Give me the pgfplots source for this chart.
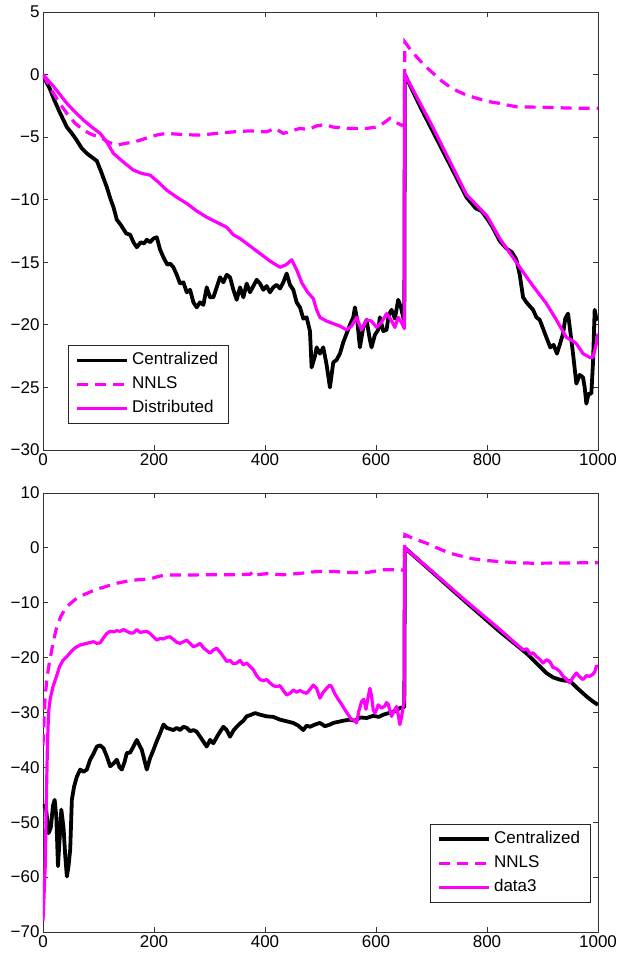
\documentclass[border=0pt]{standalone}
\usepackage{fontspec}
\setmainfont{Liberation Sans}
\usepackage{pgfplots}
\pgfplotsset{compat=1.18}

\definecolor{mag}{RGB}{255,0,255}

\pgfplotsset{
  mlab/.style={
    scale only axis, width=555pt,
    xmin=0, xmax=1000,
    xtick={0,200,400,600,800,1000},
    xticklabels={0,200,400,600,800,1000},
    tick align=inside, major tick length=5pt,
    axis line style={black!80, line width=0.9pt},
    every tick/.style={black!80, line width=0.9pt},
    tick label style={font=\fontsize{17}{20}\selectfont},
    legend cell align=left,
    legend image code/.code={\draw[##1] (0pt,0pt) -- (50pt,0pt);},
    legend style={draw=black!85, line width=0.9pt, fill=white,
      font=\fontsize{17}{20}\selectfont, inner xsep=7pt, inner ysep=6pt,
      nodes={inner xsep=3pt, inner ysep=1.5pt, text height=12pt, text depth=3.5pt},
      row sep=5.5pt},
  },
  cen/.style={black, line width=3.8pt, line join=round},
  nnls/.style={mag, line width=3.2pt, dash pattern=on 11pt off 7pt},
  dis/.style={mag, line width=3.2pt, line join=round},
}

\begin{document}
\begin{tikzpicture}
\path[use as bounding box] (0,0) rectangle (618pt,960pt);

% upper panel
\begin{axis}[mlab, height=438pt, at={(43pt,510pt)}, anchor=south west,
  ymin=-30, ymax=5, ytick={-30,-25,...,5},
  yticklabels={−30,−25,−20,−15,−10,−5,0,5},
  legend style={at={(0.045,0.059)}, anchor=south west}]
\addplot[cen] coordinates {
(0,0) (6,-0.6) (12,-1.1) (20,-2) (30,-3) (43,-4.2) (52,-4.7) (60,-5.2) (70,-5.9) (79,-6.3) (88,-6.6) (97,-6.9) (105,-7.8) (115,-9) (122,-10) (127,-10.6) (133,-11.6) (140,-12) (150,-12.7) (157,-12.8) (163,-13.4) (169,-13.8) (176,-13.4) (182,-13.5) (187,-13.2) (193,-13.4) (199,-13.1) (205,-13) (211,-14) (217,-14.6) (224,-15.2) (229,-15.1) (235,-15.4) (241,-16) (247,-16.7) (253,-16.6) (259,-17.4) (265,-17.2) (271,-18.2) (277,-18.6) (283,-18.2) (289,-18.4) (295,-17) (301,-17.8) (307,-17.8) (313,-17) (319,-16.2) (325,-16.6) (331,-16) (337,-16.2) (343,-17.2) (349,-18) (355,-17) (361,-17.8) (367,-16.7) (373,-17.4) (379,-16.9) (385,-16.4) (391,-16.7) (397,-17.2) (403,-16.9) (409,-17.4) (415,-17) (421,-16.8) (427,-17.1) (433,-16.6) (439,-15.9) (445,-16.8) (451,-17.2) (457,-18.2) (463,-18.6) (469,-19.5) (475,-19.4) (481,-20.5) (484,-23.4) (490,-22.5) (493,-21.8) (499,-22.3) (505,-21.8) (511,-23.2) (517,-25) (523,-23) (529,-22.8) (535,-22.3) (541,-21.4) (547,-20.7) (553,-20) (559,-19.4) (562,-18.6) (566,-19.6) (571,-21.8) (577,-20.2) (583,-19.6) (589,-21.2) (592,-21.8) (598,-20.8) (604,-20.4) (607,-19.4) (613,-20.5) (619,-20.4) (623,-19.2) (628,-18.8) (634,-19.5) (640,-18) (645,-18.6) (649,-19.4) (651,-19.6)
(652,0) (680,-2.6) (710,-5.2) (740,-7.8) (763,-9.8) (780,-10.7) (790,-10.9) (800,-11.5) (810,-12.2) (823,-13.3) (835,-13.9) (845,-14.2) (853,-14.8) (859,-16) (865,-17.8) (871,-18.2) (877,-18.5) (883,-18.8) (889,-19.4) (895,-19.6) (901,-20.3) (907,-21) (914,-21.8) (920,-21.6) (926,-22.3) (931,-21.6) (937,-20.7) (941,-19.5) (946,-19.1) (950,-20.5) (955,-22.3) (961,-24.7) (967,-24) (973,-24.2) (976,-25) (979,-26.3) (983,-25.5) (988,-25.5) (991,-23) (994,-18.8) (997,-19.5) (1000,-19.6)
};
\addlegendentry{Centralized}
\addplot[nnls] coordinates {
(0,0) (15,-1.2) (30,-2.3) (43,-3.1) (58,-3.9) (73,-4.44) (88,-4.8) (103,-5) (118,-5.4) (133,-5.64) (148,-5.5) (163,-5.4) (178,-5.2) (193,-4.98) (208,-4.8) (223,-4.7) (253,-4.8) (283,-4.84) (313,-4.7) (343,-4.58) (373,-4.5) (403,-4.58) (418,-4.3) (433,-4.7) (448,-4.5) (463,-4.3) (478,-4.4) (493,-4.1) (508,-4.0) (523,-4.2) (553,-4.3) (583,-4.3) (601,-4.2) (613,-3.9) (625,-3.5) (635,-3.8) (646,-4.04) (651,-4.1)
(652,2.6) (662,2.0) (673,1.42) (688,0.7) (703,0.1) (718,-0.5) (733,-0.98) (748,-1.35) (763,-1.64) (778,-1.85) (793,-2.04) (808,-2.2) (823,-2.3) (838,-2.45) (853,-2.57) (883,-2.6) (913,-2.63) (950,-2.68) (1000,-2.7)
};
\addlegendentry{NNLS}
\addplot[dis] coordinates {
(0,0) (20,-1) (43,-2.3) (58,-3.0) (73,-3.64) (88,-4.2) (103,-4.7) (115,-5.4) (127,-6.3) (145,-7.0) (163,-7.64) (178,-7.9) (193,-8.04) (208,-8.6) (223,-9.24) (241,-9.8) (259,-10.3) (277,-10.9) (295,-11.4) (313,-11.8) (331,-12.2) (343,-12.8) (355,-13.1) (373,-13.7) (391,-14.3) (409,-14.9) (427,-15.4) (438,-15.2) (448,-14.8) (457,-15.6) (467,-16.7) (477,-17.4) (487,-17.9) (493,-18.8) (499,-19.4) (511,-19.7) (523,-19.9) (535,-20.1) (547,-20.4) (556,-20.1) (565,-19.4) (574,-20.4) (583,-19.6) (592,-19.7) (601,-20.2) (610,-19.8) (619,-19.1) (627,-19.6) (634,-20.2) (640,-19.4) (646,-19.8) (651,-20.3)
(652,0) (700,-4) (763,-9.6) (800,-11.3) (823,-13.1) (859,-15.4) (883,-16.9) (907,-18.3) (925,-19.6) (943,-21) (955,-21.3) (961,-21.5) (967,-21.9) (973,-22.3) (985,-22.6) (991,-22.6) (997,-21.5) (1000,-20.7)
};
\addlegendentry{Distributed}
\end{axis}

% lower panel
\begin{axis}[mlab, height=439pt, at={(43pt,28pt)}, anchor=south west,
  ymin=-70, ymax=10, ytick={-70,-60,...,10},
  yticklabels={−70,−60,−50,−40,−30,−20,−10,0,10},
  legend style={at={(0.697,0.066)}, anchor=south west}]
\addplot[cen] coordinates {
(0,-47) (5,-47) (8,-50) (10,-52) (14,-51) (18,-47) (21,-45.9) (24,-49) (27,-58) (30,-53) (33,-47.7) (37,-51) (40,-56) (43,-59.9) (46,-58) (49,-55) (52,-45.9) (56,-43.5) (61,-41.7) (67,-40.4) (73,-40.8) (79,-40.4) (85,-38.6) (91,-37.5) (97,-36.2) (103,-36) (109,-36.5) (115,-38) (121,-39.8) (127,-39.3) (133,-38.6) (138,-40) (142,-40.4) (147,-39) (151,-37.4) (157,-37.3) (163,-36.2) (169,-35) (174,-36) (178,-36.8) (183,-38.8) (187,-40.4) (193,-38.3) (199,-36.8) (205,-35.2) (211,-33.8) (217,-32.2) (223,-32.8) (229,-33) (235,-33.2) (241,-32.8) (247,-33.2) (253,-32.6) (259,-32.8) (265,-33.4) (271,-33.2) (277,-33.5) (283,-34.4) (289,-35.3) (295,-36.2) (301,-35) (307,-35.6) (313,-34.5) (319,-33.5) (325,-32.6) (331,-33.2) (337,-34.4) (343,-33.3) (349,-32.6) (355,-32) (361,-31.5) (367,-30.7) (373,-30.5) (382,-30.1) (391,-30.4) (403,-30.7) (415,-30.8) (427,-31.3) (439,-31.6) (451,-31.9) (460,-32.4) (469,-33.2) (475,-32.4) (481,-32.6) (490,-32.2) (499,-31.9) (508,-32.5) (517,-32.2) (523,-31.9) (532,-31.7) (541,-31.5) (553,-31.3) (562,-31.5) (572,-30.9) (583,-31) (595,-30.6) (605,-30.8) (613,-30.4) (623,-30.1) (633,-29.8) (643,-29.2) (651,-29)
(652,0) (700,-4.3) (760,-9.7) (820,-15) (871,-19.2) (889,-21) (907,-22.8) (919,-23.6) (931,-24) (941,-24.2) (950,-24.3) (962,-25.5) (973,-26.5) (982,-27.3) (991,-28) (1000,-28.6)
};
\addlegendentry{Centralized}
\addplot[nnls] coordinates {
(0,-36) (2,-31) (4,-27) (7,-24) (10,-21.8) (13,-20.2) (18,-17.3) (25,-14.3) (33,-12.3) (43,-10.7) (58,-9.4) (73,-8.56) (88,-7.9) (103,-7.35) (118,-6.9) (133,-6.44) (150,-6.1) (169,-5.83) (193,-5.65) (208,-5.2) (223,-4.92) (253,-4.95) (283,-4.92) (313,-4.9) (343,-4.9) (373,-4.8) (380,-4.3) (385,-4.9) (403,-4.7) (433,-4.9) (463,-4.65) (493,-4.3) (523,-4.3) (553,-4.5) (583,-4.5) (613,-4.0) (643,-4.0) (651,-4.1)
(652,2.4) (670,1.6) (691,0.85) (712,-0.1) (733,-0.97) (754,-1.5) (775,-2.0) (799,-2.3) (823,-2.5) (853,-2.7) (883,-2.8) (940,-2.75) (1000,-2.7)
};
\addlegendentry{NNLS}
\addplot[dis] coordinates {
(0,-68) (2,-63) (4,-58) (6,-46) (8,-36) (10,-30) (13,-27.5) (18,-25.3) (24,-23.5) (30,-21.6) (36,-20.5) (43,-19.8) (50,-19) (58,-18.2) (67,-17.7) (75,-17.5) (83,-17.3) (91,-17.1) (97,-17.4) (103,-17.3) (109,-16.4) (115,-15.6) (121,-15.2) (127,-15.3) (133,-15.1) (139,-15.2) (145,-14.9) (151,-15.2) (157,-15.5) (163,-15.5) (169,-14.9) (175,-15.4) (181,-15.3) (187,-15.2) (193,-15.6) (199,-16.2) (205,-16.8) (211,-16.5) (217,-16.6) (223,-16.3) (229,-16.2) (235,-16.7) (241,-17.2) (247,-17.4) (253,-17.1) (259,-16.8) (265,-17.4) (271,-18) (277,-17.8) (283,-17.4) (289,-18.2) (295,-18.7) (301,-19.2) (307,-18.6) (313,-18.3) (319,-19) (325,-19.8) (331,-20.7) (337,-20.5) (343,-21.1) (349,-21) (355,-20.5) (361,-21.3) (367,-21) (373,-21.6) (379,-22.2) (385,-23.3) (391,-24) (397,-24.2) (403,-24) (409,-24.6) (415,-25.1) (421,-25.3) (427,-25.1) (433,-26) (439,-26.8) (445,-26.5) (451,-25.9) (457,-26.3) (463,-26) (469,-26.3) (475,-26.5) (481,-25.8) (487,-25) (493,-25.6) (499,-27.4) (505,-26.3) (511,-25.6) (517,-25) (520,-25.3) (526,-26.6) (532,-27.6) (538,-28.5) (544,-29.5) (550,-30.4) (556,-31.3) (559,-31.3) (562,-31.5) (565,-31.9) (569,-29.8) (574,-28) (578,-27.6) (582,-29.4) (586,-27.1) (589,-25.6) (592,-27) (595,-29.5) (598,-30.1) (601,-29.5) (604,-28.6) (610,-29.2) (616,-28.8) (619,-28.2) (622,-28.5) (628,-30.7) (632,-29.8) (637,-28.9) (640,-30.4) (643,-32.2) (646,-30.8) (649,-28.9) (651,-27.7)
(652,0) (700,-4.2) (760,-9.5) (820,-14.6) (865,-18.6) (872,-18.4) (878,-19.4) (883,-19.1) (889,-19.8) (895,-20.3) (901,-21) (907,-20.4) (913,-20.7) (919,-21.8) (925,-22) (931,-22.5) (937,-23.4) (943,-23.9) (949,-24.6) (955,-23.6) (961,-22.8) (967,-23.5) (973,-24) (979,-23.3) (985,-23.4) (991,-23) (994,-22.6) (997,-21.6) (1000,-21.5)
};
\addlegendentry{data3}
\end{axis}
\end{tikzpicture}
\end{document}
